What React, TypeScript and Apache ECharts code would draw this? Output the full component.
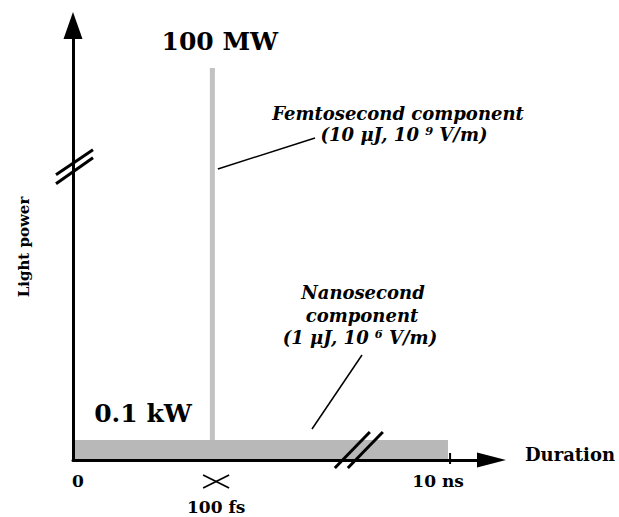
import React, { useEffect, useRef } from "react";
import * as echarts from "echarts";

// Schematic data (axis units: duration 0..100, power 0..100, both schematic with breaks)
const componentNames = ["Femtosecond component", "Nanosecond component"];
const componentDetails = ["(10 μJ, 10 ⁹ V/m)", "(1 μJ, 10 ⁶ V/m)"];
const pulseStart = [32.7, 0];
const pulseEnd = [33.9, 89.6];
const pulsePower = [90.2, 4.6];
const powerLabels = ["100 MW", "0.1 kW"];
const durationTickLabels = ["0", "100 fs", "10 ns"];
const durationTickValues = [0, 34.2, 90.1];
const xBreakValue = 68.3;
const yBreakValue = 67.7;

export default function App() {
  const ref = useRef<HTMLDivElement>(null);
  useEffect(() => {
    const chart = echarts.init(ref.current!, null, { renderer: "svg" });
    const serif = "DejaVu Serif";
    const pulses = componentNames.map((_, i) => [pulseStart[i], pulseEnd[i], pulsePower[i], i]);
    const axisLine = (size: number[]) => ({
      show: true,
      symbol: ["none", "triangle"],
      symbolSize: size,
      lineStyle: { color: "#000", width: 3 },
    });
    chart.setOption({
      animation: false,
      grid: { left: 73, right: 127.5, top: 25.5, bottom: 57 },
      xAxis: {
        type: "value", min: 0, max: 100, z: 5,
        axisLine: axisLine([15, 29]),
        axisTick: { show: false }, axisLabel: { show: false }, splitLine: { show: false },
      },
      yAxis: {
        type: "value", min: 0, max: 100, z: 5,
        axisLine: axisLine([19, 27]),
        axisTick: { show: false }, axisLabel: { show: false }, splitLine: { show: false },
      },
      series: [
        {
          type: "custom",
          z: 1,
          data: pulses,
          renderItem: (params: any, api: any) => {
            const p0 = api.coord([api.value(0), api.value(2)]);
            const p1 = api.coord([api.value(1), 0]);
            const idx = api.value(3);
            return {
              type: "rect",
              shape: { x: p0[0], y: p0[1], width: p1[0] - p0[0], height: p1[1] - p0[1] },
              style: { fill: idx === 0 ? "#c2c2c2" : "#b8b8b8" },
            };
          },
        },
      ],
    });

    const px = (x: number, y: number) => chart.convertToPixel({ gridIndex: 0 }, [x, y]) as number[];
    const g: any[] = [];
    const bold = (size: number, italic = false) => ({
      fontFamily: serif, fontWeight: "bold", fontSize: size, fontStyle: italic ? "italic" : "normal", fill: "#000",
    });
    const text = (t: string, x: number, y: number, style: any, extra: any = {}) =>
      g.push({ type: "text", x, y, z: 20, style: { text: t, align: "center", verticalAlign: "middle", ...style }, ...extra });
    const seg = (x1: number, y1: number, x2: number, y2: number, w: number) =>
      g.push({ type: "line", z: 20, shape: { x1, y1, x2, y2 }, style: { stroke: "#000", lineWidth: w } });

    // power labels
    const fsTop = px(pulseStart[0], pulsePower[0]);
    text(powerLabels[0], fsTop[0] + 10, 41, bold(25));
    const nsTop = px(0, pulsePower[1]);
    text(powerLabels[1], 143, nsTop[1] - 27, bold(25));

    // duration tick labels
    const t0 = px(durationTickValues[0], 0);
    text(durationTickLabels[0], t0[0] + 5, t0[1] + 21, bold(17));
    const t1 = px(durationTickValues[1], 0);
    seg(t1[0] - 13, t1[1] + 15, t1[0] + 13, t1[1] + 28, 1.8);
    seg(t1[0] - 13, t1[1] + 28, t1[0] + 13, t1[1] + 15, 1.8);
    text(durationTickLabels[1], t1[0], t1[1] + 47, bold(17));
    const t2 = px(durationTickValues[2], 0);
    seg(t2[0], t2[1] - 7, t2[0], t2[1] + 4, 2);
    text(durationTickLabels[2], t2[0] - 12, t2[1] + 21, bold(17));

    // axis names
    text("Duration", 570, 454, bold(18));
    text("Light power", 24, 247, bold(15), { rotation: Math.PI / 2 });

    // breaks
    const xb = px(xBreakValue, 0);
    seg(xb[0] - 24, xb[1] + 8, xb[0] + 11, xb[1] - 28, 3);
    seg(xb[0] - 11, xb[1] + 8, xb[0] + 24, xb[1] - 28, 3);
    const yb = px(0, yBreakValue);
    seg(yb[0] - 17, yb[1] + 9, yb[0] + 20, yb[1] - 16, 3);
    seg(yb[0] - 17, yb[1] + 18, yb[0] + 20, yb[1] - 8, 3);

    // femtosecond annotation
    const fsRight = px(pulseEnd[0], 0)[0];
    text(componentNames[0], 398, 113, bold(18, true));
    text(componentDetails[0], 404, 134, bold(18, true));
    seg(fsRight + 3, 169, 315, 138, 1.5);

    // nanosecond annotation
    const nsParts = componentNames[1].split(" ");
    text(nsParts[0], 363, 292, bold(18, true));
    text(nsParts[1], 362, 315, bold(18, true));
    text(componentDetails[1], 360, 337, bold(18, true));
    seg(362, 355, 312, 429, 1.5);

    chart.setOption({ graphic: g });
    return () => chart.dispose();
  }, []);
  return <div ref={ref} style={{ position: "absolute", left: 0, top: 0, width: 619, height: 517 }} />;
}
